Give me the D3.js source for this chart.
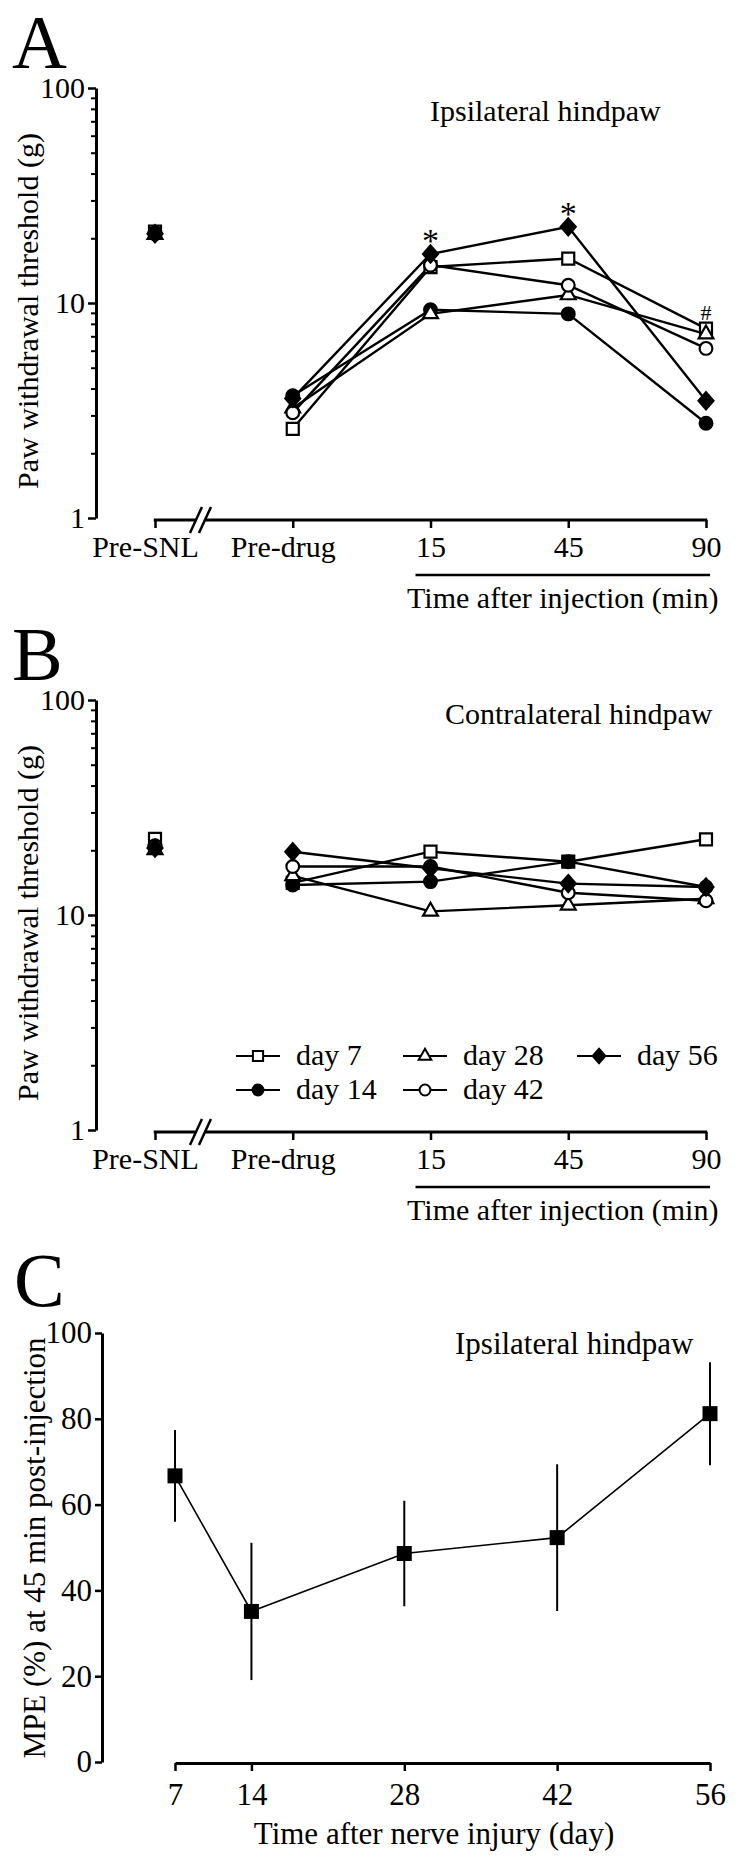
<!DOCTYPE html>
<html>
<head>
<meta charset="utf-8">
<script src="https://cdn.jsdelivr.net/npm/d3@7"></script>
<style>
html,body{margin:0;padding:0;background:#fff;}
svg{display:block;}
</style>
</head>
<body>
<svg id="chart" width="750" height="1863"></svg>
<script>
// ---------------- DATA ----------------
const timepoints = ["Pre-SNL", "Pre-drug", "15", "45", "90"];
const seriesLabels = ["day 7", "day 14", "day 28", "day 42", "day 56"];
const seriesSymbols = ["square", "circle", "triangle", "circle", "diamond"];
const seriesFilled = [false, true, false, false, true];

// Panel A – ipsilateral hindpaw, paw withdrawal threshold (g)
const ipsiDay7  = [21.5, 2.6, 14.7, 16.1, 7.6];
const ipsiDay14 = [21.0, 3.7, 9.3, 8.9, 2.76];
const ipsiDay28 = [20.8, 3.24, 8.9, 10.9, 7.17];
const ipsiDay42 = [21.2, 3.09, 15.0, 12.1, 6.15];
const ipsiDay56 = [21.0, 3.6, 16.9, 22.6, 3.51];

// Panel B – contralateral hindpaw, paw withdrawal threshold (g)
const contraDay7  = [22.6, 14.1, 19.7, 17.7, 22.5];
const contraDay14 = [20.8, 13.8, 14.3, 17.7, 13.5];
const contraDay28 = [20.1, 15.2, 10.4, 11.1, 11.9];
const contraDay42 = [21.0, 16.8, 16.8, 12.7, 11.65];
const contraDay56 = [20.5, 19.7, 16.5, 14.0, 13.5];

// significance marks in panel A
const ipsiMarkTimes = ["15", "45", "90"];
const ipsiMarkTexts = ["*", "*", "#"];

const logTicksMajor = [1, 10, 100];
const logTicksMinor = [2, 3, 4, 5, 6, 7, 8, 9, 20, 30, 40, 50, 60, 70, 80, 90];

// Panel C – MPE (%) at 45 min post-injection
const mpeDays = [7, 14, 28, 42, 56];
const mpeMean = [66.7, 35.1, 48.6, 52.3, 81.2];
const mpeSEM  = [10.7, 16.0, 12.3, 17.1, 12.0];
const mpeTicks = [0, 20, 40, 60, 80, 100];

// ---------------- DRAWING ----------------
const FONT = "'Liberation Serif','Times New Roman',Times,serif";
const FS = 30;
const svg = d3.select("#chart");
svg.append("rect").attr("width", 750).attr("height", 1863).attr("fill", "#fff");

const diamondType = {
  draw(ctx, size) {
    const r = Math.sqrt(size / 2);
    ctx.moveTo(0, -r * 1.08); ctx.lineTo(r * 0.95, 0);
    ctx.lineTo(0, r * 1.08); ctx.lineTo(-r * 0.95, 0); ctx.closePath();
  }
};
function symbolFor(name, scale) {
  const s = scale || 1;
  if (name === "square") return d3.symbol(d3.symbolSquare, 144 * s * s);
  if (name === "circle") return d3.symbol(d3.symbolCircle, 128 * s * s);
  if (name === "triangle") return d3.symbol(d3.symbolTriangle, 95 * s * s);
  return d3.symbol(diamondType, 124 * s * s);
}

function styleAxisG(g, fs) {
  g.attr("font-family", FONT).attr("font-size", fs);
  g.selectAll("text").attr("fill", "#000");
  g.selectAll("line").attr("stroke", "#000");
}

function logPanel(cfg) {
  const y = d3.scaleLog().domain([1, 100]).range([cfg.bottom, cfg.top]);
  const x = d3.scalePoint().domain(timepoints).range([155, 706]);
  const g = svg.append("g");
  const axisX = 96;

  // panel letter
  g.append("text").attr("x", 12).attr("y", cfg.letterY).attr("font-family", FONT)
    .attr("font-size", 76).text(cfg.letter);

  // y axis
  const yMajor = d3.axisLeft(y).tickValues(logTicksMajor).tickFormat(d3.format("d"))
    .tickSize(8).tickSizeOuter(0).tickPadding(3);
  const ga = g.append("g").attr("transform", `translate(${axisX},0)`).call(yMajor);
  styleAxisG(ga, FS);
  ga.select(".domain").attr("stroke", "#000").attr("stroke-width", 3);
  ga.selectAll(".tick line").attr("stroke-width", 2.5);
  const yMinor = d3.axisLeft(y).tickValues(logTicksMinor).tickFormat("").tickSize(5).tickSizeOuter(0);
  const gm = g.append("g").attr("transform", `translate(${axisX},0)`).call(yMinor);
  gm.select(".domain").remove();
  gm.selectAll(".tick line").attr("stroke", "#000").attr("stroke-width", 2);

  // y title
  g.append("text").attr("transform", `translate(${cfg.titleX},${(cfg.top + cfg.bottom) / 2 + 8}) rotate(-90)`)
    .attr("text-anchor", "middle").attr("font-family", FONT).attr("font-size", FS)
    .text("Paw withdrawal threshold (g)");

  // x axis with break
  const axY = cfg.bottom + 2;
  const xAxis = d3.axisBottom(x).tickSize(8).tickSizeOuter(0).tickPadding(8);
  const gx = g.append("g").attr("transform", `translate(0,${axY})`).call(xAxis);
  styleAxisG(gx, FS);
  gx.select(".domain").remove();
  gx.selectAll(".tick line").attr("stroke-width", 2.5);
  gx.selectAll(".tick text").attr("dx", d => isNaN(+d) ? -10 : 0);
  const brk = x("Pre-SNL") + x.step() * 0.33;
  g.append("line").attr("x1", x("Pre-SNL") - 1.25).attr("x2", brk - 5).attr("y1", axY).attr("y2", axY)
    .attr("stroke", "#000").attr("stroke-width", 3);
  g.append("line").attr("x1", brk + 4).attr("x2", x("90") + 1.25).attr("y1", axY).attr("y2", axY)
    .attr("stroke", "#000").attr("stroke-width", 3);
  [-4.5, 4.5].forEach(off => {
    g.append("line").attr("x1", brk + off - 6).attr("y1", axY + 13)
      .attr("x2", brk + off + 6).attr("y2", axY - 13)
      .attr("stroke", "#000").attr("stroke-width", 2.5);
  });
  // "Time after injection" bracket
  g.append("line").attr("x1", x("15") - 15).attr("x2", x("90") + 4)
    .attr("y1", axY + 55).attr("y2", axY + 55).attr("stroke", "#000").attr("stroke-width", 2.5);
  g.append("text").attr("x", (x("15") - 15 + x("90") + 4) / 2).attr("y", axY + 88)
    .attr("text-anchor", "middle").attr("font-family", FONT).attr("font-size", FS)
    .text("Time after injection (min)");

  // panel subtitle
  g.append("text").attr("x", cfg.subX).attr("y", cfg.subY).attr("font-family", FONT)
    .attr("font-size", FS).text(cfg.subtitle);

  // lines (from Pre-drug onward)
  const line = d3.line().x(d => x(d.t)).y(d => y(d.v));
  cfg.series.forEach((vals, i) => {
    const pts = vals.map((v, j) => ({ t: timepoints[j], v })).slice(1);
    g.append("path").attr("d", line(pts)).attr("fill", "none")
      .attr("stroke", "#000").attr("stroke-width", 2.4);
  });
  // markers
  cfg.series.forEach((vals, i) => {
    g.append("g").selectAll("path").data(vals.map((v, j) => ({ t: timepoints[j], v })))
      .join("path")
      .attr("transform", d => `translate(${x(d.t)},${y(d.v)})`)
      .attr("d", symbolFor(seriesSymbols[i]))
      .attr("fill", seriesFilled[i] ? "#000" : "#fff")
      .attr("stroke", "#000").attr("stroke-width", 2.2);
  });
  return { x, y, g };
}

// Panel A
const pa = logPanel({
  letter: "A", letterY: 68, top: 88, bottom: 518, titleX: 38,
  subtitle: "Ipsilateral hindpaw", subX: 430, subY: 121,
  series: [ipsiDay7, ipsiDay14, ipsiDay28, ipsiDay42, ipsiDay56]
});
// significance marks
const ipsiAll = [ipsiDay7, ipsiDay14, ipsiDay28, ipsiDay42, ipsiDay56];
ipsiMarkTimes.forEach((t, k) => {
  const j = timepoints.indexOf(t);
  const mx = d3.max(ipsiAll, s => s[j]);
  const isStar = ipsiMarkTexts[k] === "*";
  pa.g.append("text").attr("x", pa.x(t)).attr("y", pa.y(mx) - (isStar ? 2 : 9))
    .attr("text-anchor", "middle").attr("font-family", FONT)
    .attr("font-size", isStar ? 34 : 22).text(ipsiMarkTexts[k]);
});

// Panel B
const pb = logPanel({
  letter: "B", letterY: 680, top: 700, bottom: 1130, titleX: 38,
  subtitle: "Contralateral hindpaw", subX: 445, subY: 724,
  series: [contraDay7, contraDay14, contraDay28, contraDay42, contraDay56]
});
// legend in B
const legX = [258, 258, 425, 425, 599];
const legY = [1056, 1090, 1056, 1090, 1056];
const leg = pb.g.append("g");
seriesLabels.forEach((lab, i) => {
  leg.append("line").attr("x1", legX[i] - 22).attr("x2", legX[i] + 22)
    .attr("y1", legY[i]).attr("y2", legY[i]).attr("stroke", "#000").attr("stroke-width", 2.2);
  leg.append("path").attr("transform", `translate(${legX[i]},${legY[i]})`)
    .attr("d", symbolFor(seriesSymbols[i], 0.85))
    .attr("fill", seriesFilled[i] ? "#000" : "#fff").attr("stroke", "#000").attr("stroke-width", 2);
  leg.append("text").attr("x", legX[i] + 38).attr("y", legY[i]).attr("dy", "0.3em")
    .attr("font-family", FONT).attr("font-size", FS).text(lab);
});

// Panel C
(function () {
  const x = d3.scaleLinear().domain([7, 56]).range([175, 710]);
  const y = d3.scaleLinear().domain([0, 100]).range([1762, 1333]);
  const g = svg.append("g");
  g.append("text").attr("x", 14).attr("y", 1306).attr("font-family", FONT)
    .attr("font-size", 76).text("C");
  const ya = d3.axisLeft(y).tickValues(mpeTicks).tickSize(7).tickSizeOuter(0).tickPadding(3);
  const gy = g.append("g").attr("transform", "translate(102,0)").call(ya);
  styleAxisG(gy, 31);
  gy.select(".domain").attr("stroke", "#000").attr("stroke-width", 3);
  gy.selectAll(".tick line").attr("stroke-width", 2.5);
  const xa = d3.axisBottom(x).tickValues(mpeDays).tickSize(8).tickSizeOuter(0).tickPadding(12);
  const gx = g.append("g").attr("transform", "translate(0,1763)").call(xa);
  styleAxisG(gx, 31);
  gx.select(".domain").attr("stroke", "#000").attr("stroke-width", 3);
  gx.selectAll(".tick line").attr("stroke-width", 2.5);

  g.append("text").attr("transform", "translate(45,1548) rotate(-90)")
    .attr("text-anchor", "middle").attr("font-family", FONT).attr("font-size", 31)
    .text("MPE (%) at 45 min post-injection");
  g.append("text").attr("x", 434).attr("y", 1844).attr("text-anchor", "middle")
    .attr("font-family", FONT).attr("font-size", 31).text("Time after nerve injury (day)");
  g.append("text").attr("x", 455).attr("y", 1354).attr("font-family", FONT)
    .attr("font-size", 31).text("Ipsilateral hindpaw");

  const pts = mpeDays.map((d, i) => ({ d, m: mpeMean[i], s: mpeSEM[i] }));
  g.selectAll(".err").data(pts).join("line").attr("class", "err")
    .attr("x1", p => x(p.d)).attr("x2", p => x(p.d))
    .attr("y1", p => y(p.m - p.s)).attr("y2", p => y(p.m + p.s))
    .attr("stroke", "#000").attr("stroke-width", 2);
  g.append("path").attr("d", d3.line().x(p => x(p.d)).y(p => y(p.m))(pts))
    .attr("fill", "none").attr("stroke", "#000").attr("stroke-width", 1.6);
  g.selectAll(".mk").data(pts).join("path").attr("class", "mk")
    .attr("transform", p => `translate(${x(p.d)},${y(p.m)})`)
    .attr("d", d3.symbol(d3.symbolSquare, 225)).attr("fill", "#000");
})();
</script>
</body>
</html>
